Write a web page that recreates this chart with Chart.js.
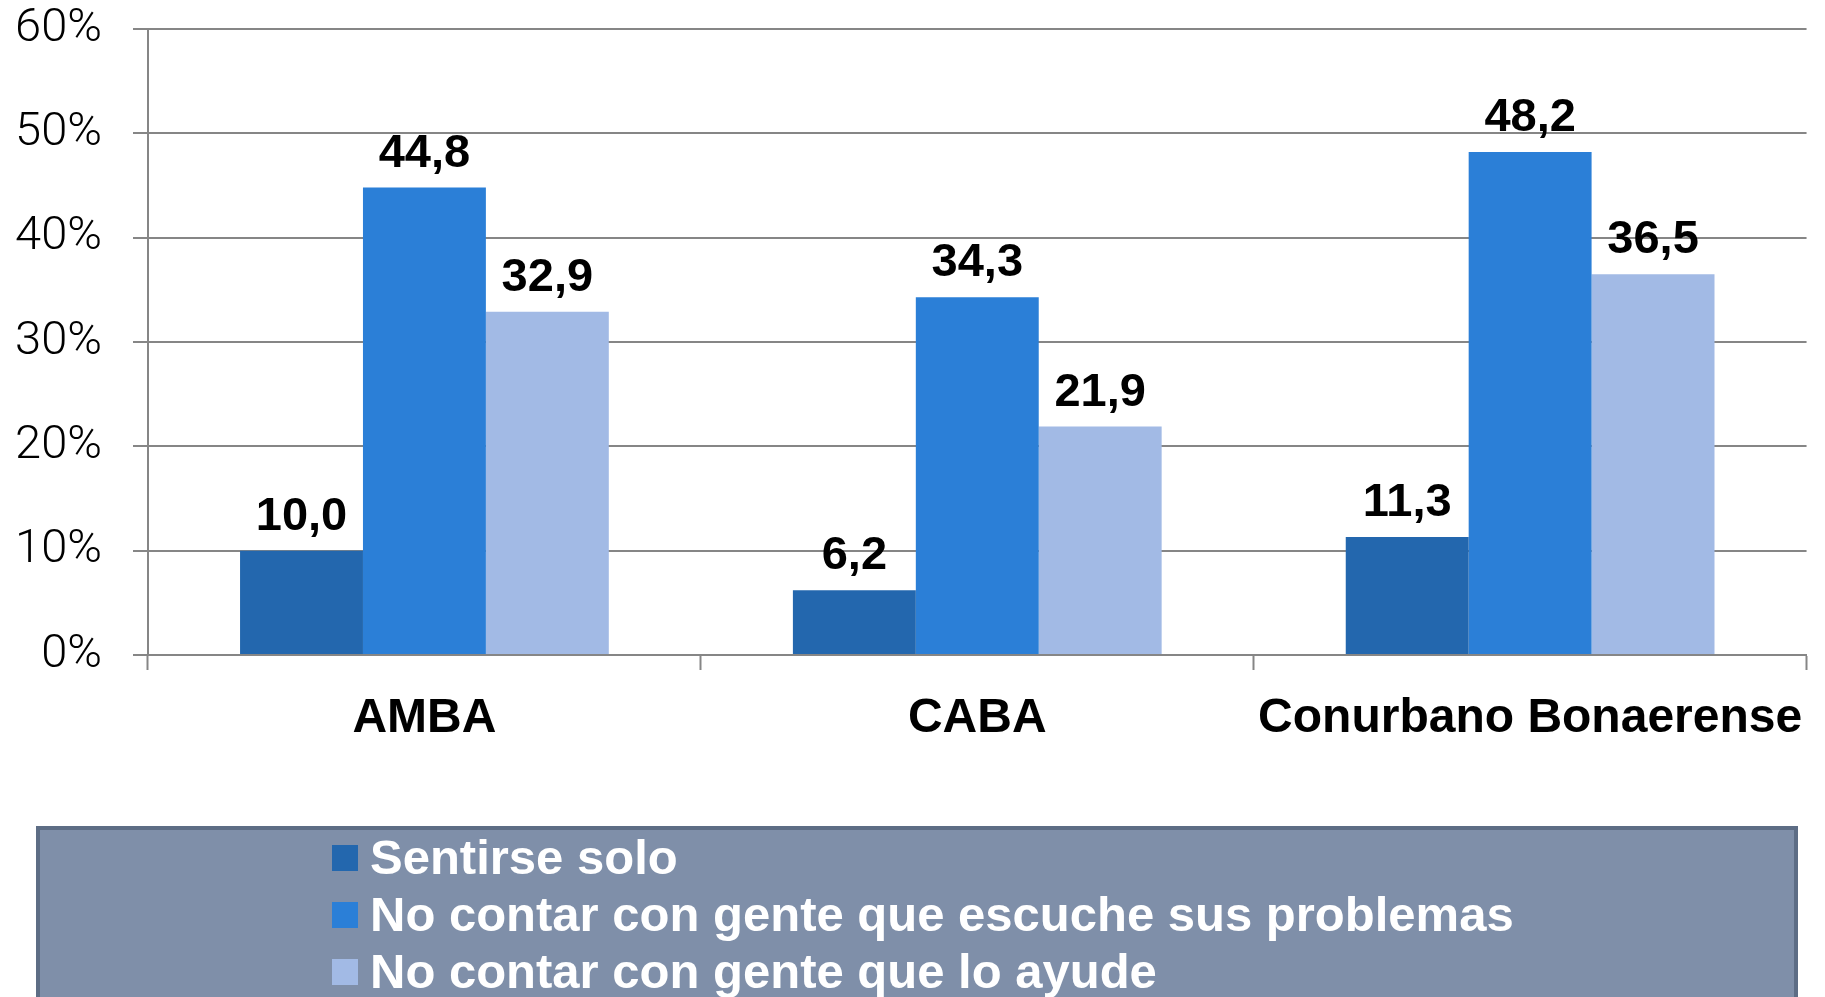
<!doctype html>
<html lang="es">
<head>
    <meta charset="utf-8">
    <title>Sentirse solo / no contar con gente</title>
    <style>
        * { margin: 0; padding: 0; }
        body { background: #fff; }
        .chartBox { width: 1825px; height: 997px; }
    </style>
</head>
<body>
<div class="chartBox">
    <canvas id="myChart"></canvas>
</div>
<script src="https://cdn.jsdelivr.net/npm/chart.js"></script>
<script>
    // data
    const categories = ['AMBA', 'CABA', 'Conurbano Bonaerense'];
    const seriesNames = [
        'Sentirse solo',
        'No contar con gente que escuche sus problemas',
        'No contar con gente que lo ayude'
    ];
    const sentirseSolo = [10.0, 6.2, 11.3];
    const noEscuchan = [44.8, 34.3, 48.2];
    const noAyudan = [32.9, 21.9, 36.5];
    const yTicks = [0, 10, 20, 30, 40, 50, 60];

    const colors = ['#2367AE', '#2B7FD7', '#A2BAE5'];
    const gridColor = '#868686';

    const data = {
        labels: categories,
        datasets: [sentirseSolo, noEscuchan, noAyudan].map((vals, i) => ({
            label: seriesNames[i],
            data: vals,
            backgroundColor: colors[i],
            borderWidth: 0,
            categoryPercentage: 0.667,
            barPercentage: 1.0
        }))
    };

    // value labels above the bars, comma decimals
    const valueLabels = {
        id: 'valueLabels',
        afterDatasetsDraw(chart) {
            const {ctx} = chart;
            ctx.save();
            ctx.fillStyle = '#000';
            ctx.font = 'bold 47px "Liberation Sans", Arial, sans-serif';
            ctx.textAlign = 'center';
            ctx.textBaseline = 'alphabetic';
            chart.data.datasets.forEach((ds, i) => {
                chart.getDatasetMeta(i).data.forEach((bar, j) => {
                    const txt = ds.data[j].toFixed(1).replace('.', ',');
                    ctx.fillText(txt, bar.x, bar.y - 21);
                });
            });
            ctx.restore();
        }
    };

    // legend panel at the bottom
    const legendPanel = {
        id: 'legendPanel',
        afterDraw(chart) {
            const {ctx} = chart;
            ctx.save();
            ctx.fillStyle = '#7F8FA9';
            ctx.fillRect(38, 828, 1758, 180);
            ctx.strokeStyle = '#5D6D85';
            ctx.lineWidth = 4;
            ctx.strokeRect(38, 828, 1758, 180);

            ctx.font = 'bold 49px "Liberation Sans", Arial, sans-serif';
            ctx.textAlign = 'left';
            ctx.textBaseline = 'middle';
            chart.data.datasets.forEach((ds, i) => {
                const cy = 858 + i * 57;
                ctx.fillStyle = ds.backgroundColor;
                ctx.fillRect(332, cy - 13, 26, 26);
                ctx.fillStyle = '#fff';
                ctx.fillText(ds.label, 370, cy + 2);
            });
            ctx.restore();
        }
    };

    const config = {
        type: 'bar',
        data,
        options: {
            responsive: true,
            maintainAspectRatio: false,
            animation: false,
            layout: {
                padding: {left: 0, right: 17, top: 29, bottom: 0}
            },
            plugins: {
                legend: {display: false},
                tooltip: {enabled: false}
            },
            scales: {
                x: {
                    afterFit(scale) {
                        scale.height = 342;
                        scale.paddingTop = 0;
                    },
                    grid: {
                        display: true,
                        drawOnChartArea: false,
                        drawTicks: true,
                        tickLength: 15,
                        tickWidth: 2,
                        tickColor: gridColor,
                        offset: true
                    },
                    border: {display: true, color: gridColor, width: 2},
                    ticks: {
                        color: '#000',
                        padding: 20,
                        maxRotation: 0,
                        autoSkip: false,
                        font: {family: '"Liberation Sans", Arial, sans-serif', size: 48, weight: 'bold'}
                    }
                },
                y: {
                    min: 0,
                    max: 60,
                    afterFit(scale) {
                        scale.width = 148;
                        scale.paddingTop = 0;
                        scale.paddingBottom = 0;
                    },
                    afterBuildTicks(scale) {
                        scale.ticks = yTicks.map(v => ({value: v}));
                    },
                    grid: {
                        color: gridColor,
                        lineWidth: 2,
                        tickLength: 15
                    },
                    border: {display: true, color: gridColor, width: 2},
                    ticks: {
                        color: '#000',
                        padding: 31,
                        callback: v => v + '%',
                        font: {family: 'Roboto, "Liberation Sans", sans-serif', size: 47, weight: '300'}
                    }
                }
            }
        },
        plugins: [valueLabels, legendPanel]
    };

    const myChart = new Chart(document.getElementById('myChart'), config);
</script>
</body>
</html>
